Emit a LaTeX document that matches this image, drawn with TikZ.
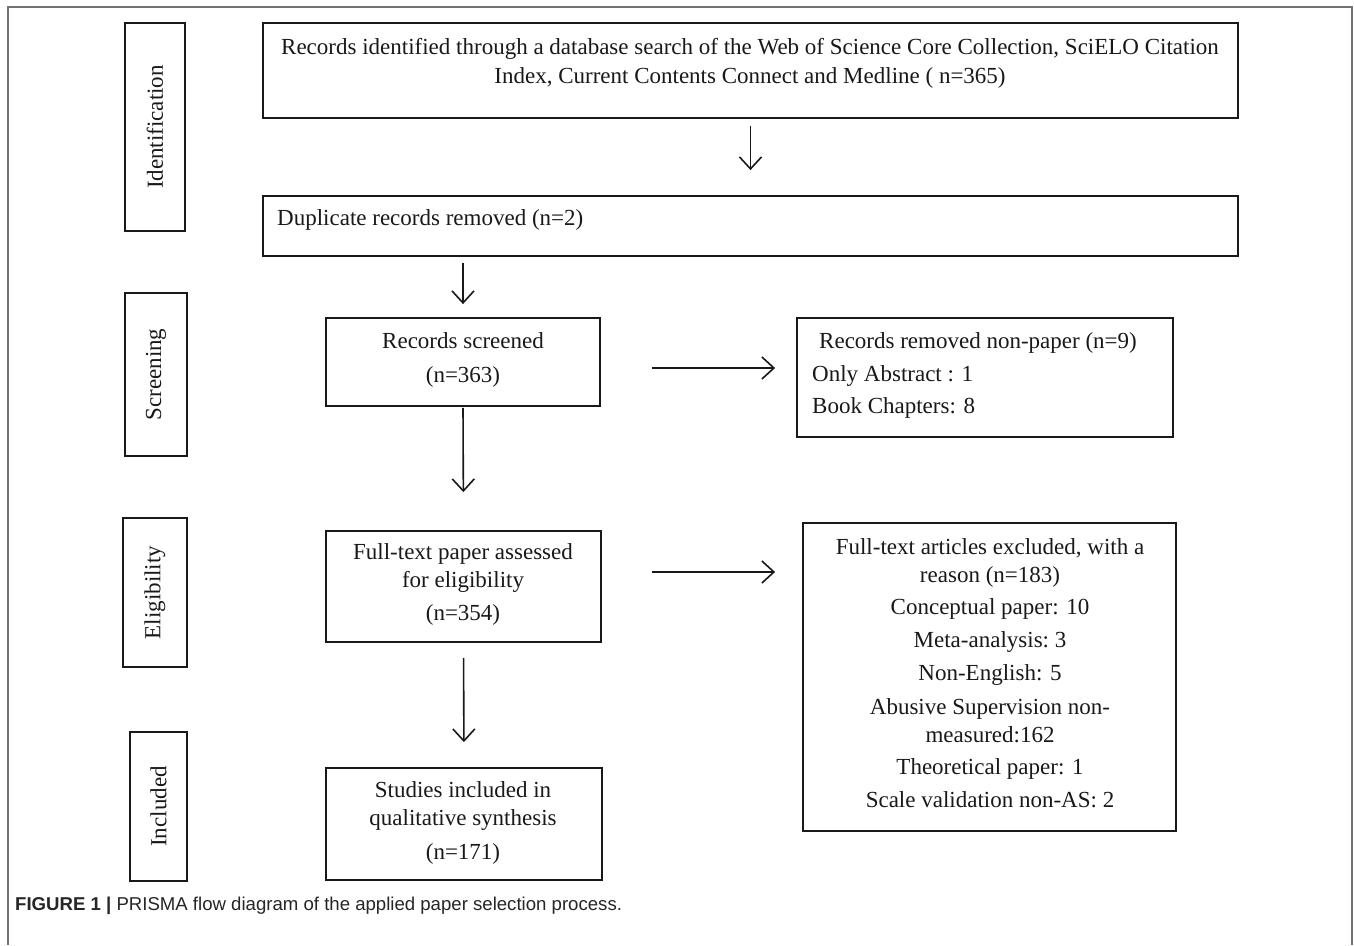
\documentclass[tikz,border=0pt]{standalone}
\usepackage{fontspec}
\setmainfont{Liberation Serif}
\newfontfamily\capfont{Liberation Sans}
\usetikzlibrary{arrows.meta}
\begin{document}
\begin{tikzpicture}[x=1pt,y=-1pt,
  box/.style={draw=black!90, line width=1.8pt, rectangle, inner sep=0pt},
  txt/.style={font=\fontsize{23}{28}\selectfont, text=black!90, inner sep=0pt, anchor=base},
  side/.style={txt, rotate=90, anchor=center},
  flow/.style={draw=black!90, line width=1.6pt, -{Straight Barb[length=12pt,width=22pt,line width=1.6pt]}},
]
\useasboundingbox (0,0) rectangle (1354,945);
\fill[white] (0,0) rectangle (1354,945);
\draw[black!55, line width=1.5pt] (8,945) -- (8,7) -- (1352,7) -- (1352,945);

% stage labels
\node[box, minimum width=60pt, minimum height=208pt] (ident) at (155,127) {};
\node[side] (identt) at (ident) {Identification};
\node[box, minimum width=62pt, minimum height=163pt] (screen) at (156,374.5) {};
\node[side] (screent) at (screen) {Screening};
\node[box, minimum width=64pt, minimum height=149pt] (elig) at (155,592.5) {};
\node[side] (eligt) at (elig) {Eligibility};
\node[box, minimum width=57pt, minimum height=149pt] (incl) at (158.5,806.5) {};
\node[side] (inclt) at (incl) {Included};

% main boxes
\node[box, minimum width=975pt, minimum height=95pt] (top) at (750.5,70.5) {};
\node[txt] (top1) at (750,54) {Records identified through a database search of the Web of Science Core Collection, SciELO Citation};
\node[txt] (top2) at (750,83) {Index, Current Contents Connect and Medline ( n=365)};

\node[box, minimum width=975pt, minimum height=60pt] (dup) at (750.5,226) {};
\node[txt, anchor=base west] (dupt) at (277,225) {Duplicate records removed (n=2)};

\node[box, minimum width=274pt, minimum height=88pt] (scr) at (463,362) {};
\node[txt] (scr1) at (463,348) {Records screened};
\node[txt] (scr2) at (463,382) {(n=363)};

\node[box, minimum width=376pt, minimum height=119pt] (rem) at (985,377.5) {};
\node[txt, anchor=base west] (rem1) at (819,348) {Records removed non-paper (n=9)};
\node[txt, anchor=base west] (rem2) at (812,381) {Only Abstract : 1};
\node[txt, anchor=base west] (rem3) at (812,413) {Book Chapters: 8};

\node[box, minimum width=275pt, minimum height=111pt] (full) at (463.5,586.5) {};
\node[txt] (full1) at (463,559) {Full-text paper assessed};
\node[txt] (full2) at (463,587) {for eligibility};
\node[txt] (full3) at (463,620) {(n=354)};

\node[box, minimum width=373pt, minimum height=308pt] (excl) at (989.5,677) {};
\node[txt] (ex1) at (990,554) {Full-text articles excluded, with a};
\node[txt] (ex2) at (990,582) {reason (n=183)};
\node[txt] (ex3) at (990,614) {Conceptual paper: 10};
\node[txt] (ex4) at (990,647) {Meta-analysis:\ 3};
\node[txt] (ex5) at (990,680) {Non-English: 5};
\node[txt] (ex6) at (990,714) {Abusive Supervision non-};
\node[txt] (ex7) at (990,742) {measured:162};
\node[txt] (ex8) at (990,774) {Theoretical paper: 1};
\node[txt] (ex9) at (990,807) {Scale validation non-AS: 2};

\node[box, minimum width=276pt, minimum height=112pt] (stud) at (464,824) {};
\node[txt] (stud1) at (463,797) {Studies included in};
\node[txt] (stud2) at (463,825) {qualitative synthesis};
\node[txt] (stud3) at (463,859) {(n=171)};

% connectors
\draw[flow, shorten <=7pt, shorten >=25pt] (top.south) -- (dup.north);
\draw[flow, shorten <=6pt, shorten >=13pt] (dup.south -| scr.north) -- (scr.north);
\draw[flow, shorten <=51pt, shorten >=21pt] ([yshift=-6pt]scr.east) -- ([yshift=-6pt]scr.east -| rem.west);
\draw[flow, shorten <=1pt, shorten >=38pt] (scr.south) -- (full.north);
\draw[flow, shorten <=50pt, shorten >=27pt] ([yshift=14.5pt]full.east) -- ([yshift=14.5pt]full.east -| excl.west);
\draw[flow, shorten <=15pt, shorten >=25pt] (full.south) -- (stud.north);

% caption
\node[anchor=base west, inner sep=0pt, text=black!85, font=\capfont\fontsize{18.6}{22}\selectfont] (cap) at (15,910)
  {\textbf{FIGURE 1 |} PRISMA flow diagram of the applied paper selection process.};
\end{tikzpicture}
\end{document}
